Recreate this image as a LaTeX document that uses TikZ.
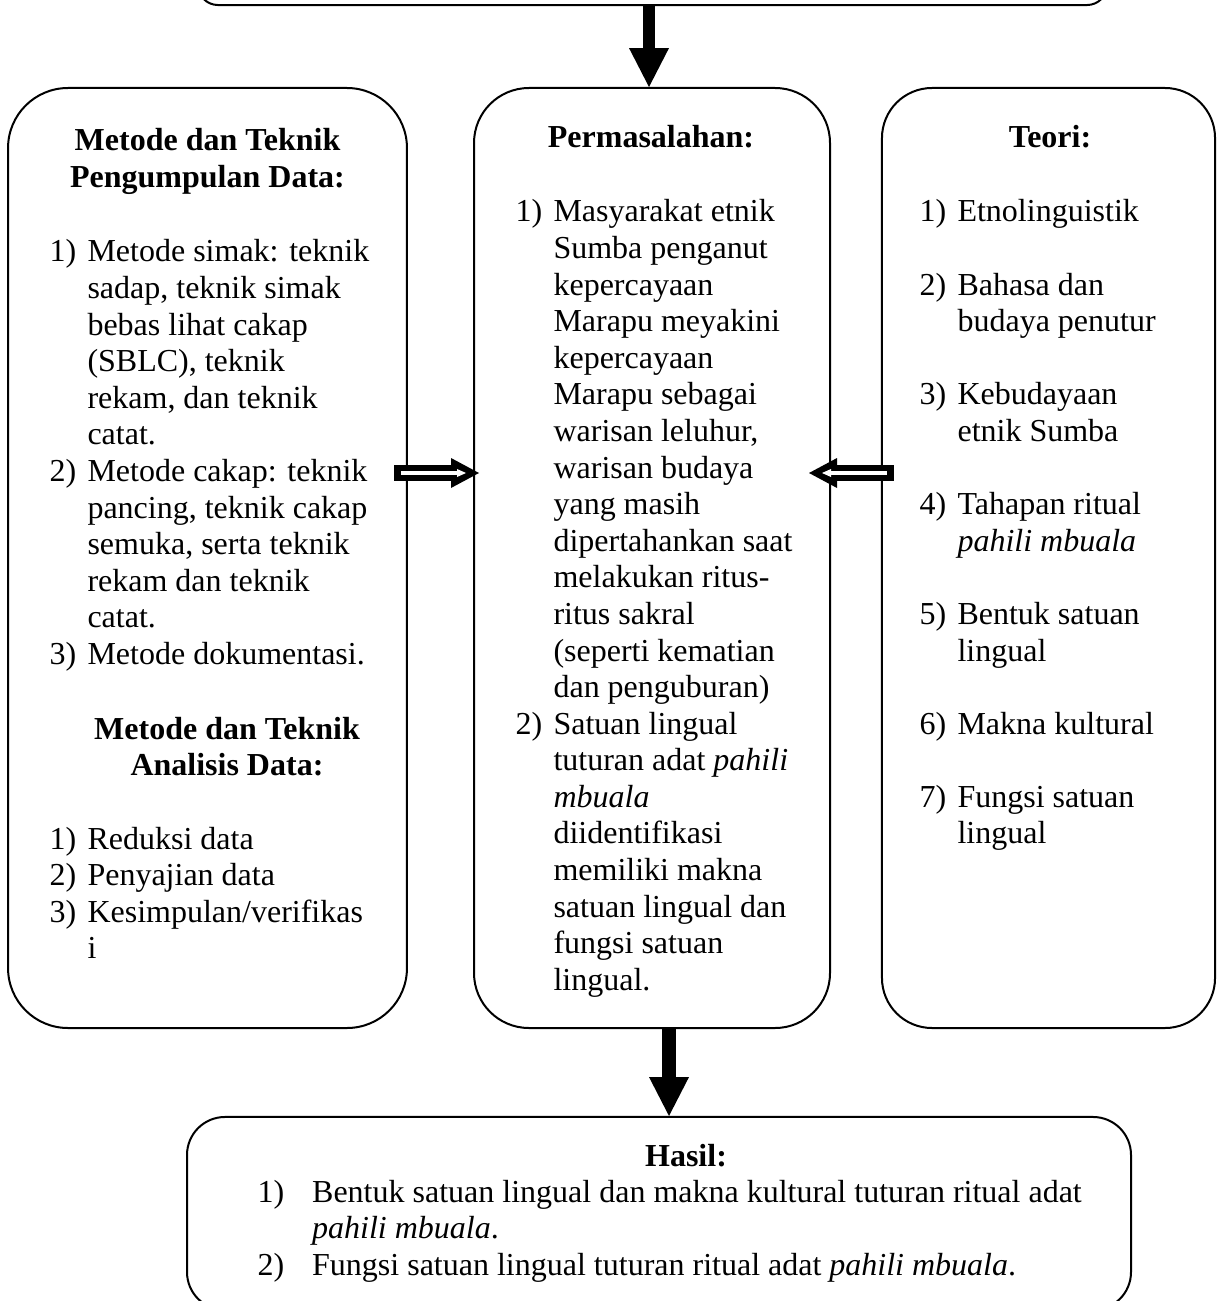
\documentclass[tikz,border=0pt]{standalone}
\usepackage{fontspec}
\setmainfont{Liberation Serif}
\usetikzlibrary{arrows.meta,calc}
\newcommand{\lb}[1]{\makebox[14.25pt][l]{#1}}
\newcommand{\ci}{\hspace*{14.25pt}}
\newcommand{\lbw}[1]{\makebox[20.5pt][l]{#1}}
\newcommand{\ciw}{\hspace*{20.5pt}}
\tikzset{
  box/.style={draw, line width=0.75pt, inner sep=0pt},
  txt/.style={inner sep=0pt, font=\fontsize{12}{13.72}\selectfont},
  bigarrow/.style={line width=#1, -{Triangle[length=14.6pt,width=15pt,line width=0pt]}},
}
\begin{document}
\begin{tikzpicture}[x=0.375pt,y=-0.375pt]
\useasboundingbox (0,0) rectangle (1221,1301);
% boxes
\node[box, rounded corners=7.5pt, minimum width=340.9pt, minimum height=76.9pt] (T) at (652.5,-97.5) {};
\node[box, rounded corners=22.5pt, minimum width=149.6pt, minimum height=352.5pt] (L) at (207.5,558) {};
\node[box, rounded corners=20.6pt, minimum width=133.5pt, minimum height=352.5pt] (M) at (652,558) {};
\node[box, rounded corners=18.75pt, minimum width=124.9pt, minimum height=352.5pt] (R) at (1048.5,558) {};
\node[box, rounded corners=14.25pt, minimum width=354pt, minimum height=72.4pt] (B) at (659,1213.5) {};

% thick arrows
\coordinate (mn) at ($(M.north)+(-3,0)$);
\draw[bigarrow=4.5pt] (T.south -| mn) -- (mn);
\coordinate (ms) at ($(M.south)+(17,0)$);
\draw[bigarrow=5pt] (ms) -- (ms |- B.north);

% hollow arrows
\coordinate (ay) at (0,473);
\coordinate (la) at ($(L.east |- ay)+(-14,0)$);
\coordinate (lt) at ($(M.west |- ay)+(6,0)$);
\fill ($(la)+(0,-8)$) rectangle ($(lt)+(-28,8)$);
\fill ($(lt)+(-28,-15)$) -- (lt) -- ($(lt)+(-28,15)$) -- cycle;
\draw[white, line width=1.3pt] ($(la)+(7,0)$) -- ($(lt)+(-18,0)$);
\fill[white] ($(lt)+(-22,-4)$) -- ($(lt)+(-13,0)$) -- ($(lt)+(-22,4)$) -- cycle;

\coordinate (ra) at ($(R.west |- ay)+(13,0)$);
\coordinate (rt) at ($(M.east |- ay)+(-22,0)$);
\fill ($(ra)+(0,-8)$) rectangle ($(rt)+(28,8)$);
\fill ($(rt)+(28,-15)$) -- (rt) -- ($(rt)+(28,15)$) -- cycle;
\draw[white, line width=1.3pt] ($(ra)+(-7,0)$) -- ($(rt)+(18,0)$);
\fill[white] ($(rt)+(22,-4)$) -- ($(rt)+(13,0)$) -- ($(rt)+(22,4)$) -- cycle;

% left box texts
\node[txt, anchor=base] (lt1) at (207.5,151) {\parbox[t]{140pt}{\centering\bfseries Metode dan Teknik\\Pengumpulan Data:}};
\node[txt, anchor=base west] (ll1) at (49,262) {\parbox[t]{150pt}{\raggedright
\lb{1)}Metode simak: teknik\\
\ci sadap, teknik simak\\
\ci bebas lihat cakap\\
\ci (SBLC), teknik\\
\ci rekam, dan teknik\\
\ci catat.\\
\lb{2)}Metode cakap: teknik\\
\ci pancing, teknik cakap\\
\ci semuka, serta teknik\\
\ci rekam dan teknik\\
\ci catat.\\
\lb{3)}Metode dokumentasi.}};
\node[txt, anchor=base] (lt2) at (227,739) {\parbox[t]{140pt}{\centering\bfseries Metode dan Teknik\\Analisis Data:}};
\node[txt, anchor=base west] (ll2) at (49,849) {\parbox[t]{150pt}{\raggedright
\lb{1)}Reduksi data\\
\lb{2)}Penyajian data\\
\lb{3)}Kesimpulan/verifikas\\
\ci i}};

% middle box texts
\node[txt, anchor=base] (mt) at (651,148) {\textbf{Permasalahan:}};
\node[txt, anchor=base west] (ml) at (515,222) {\parbox[t]{150pt}{\raggedright
\lb{1)}Masyarakat etnik\\
\ci Sumba penganut\\
\ci kepercayaan\\
\ci Marapu meyakini\\
\ci kepercayaan\\
\ci Marapu sebagai\\
\ci warisan leluhur,\\
\ci warisan budaya\\
\ci yang masih\\
\ci dipertahankan saat\\
\ci melakukan ritus-\\
\ci ritus sakral\\
\ci (seperti kematian\\
\ci dan penguburan)\\
\lb{2)}Satuan lingual\\
\ci tuturan adat \textit{pahili}\\
\ci \textit{mbuala}\\
\ci diidentifikasi\\
\ci memiliki makna\\
\ci satuan lingual dan\\
\ci fungsi satuan\\
\ci lingual.}};

% right box texts
\node[txt, anchor=base] (rtt) at (1050,148) {\textbf{Teori:}};
\node[txt, anchor=base west] (rl) at (919,222) {\parbox[t]{150pt}{\raggedright
\lb{1)}Etnolinguistik\\[13.72pt]
\lb{2)}Bahasa dan\\
\ci budaya penutur\\[13.72pt]
\lb{3)}Kebudayaan\\
\ci etnik Sumba\\[13.72pt]
\lb{4)}Tahapan ritual\\
\ci \textit{pahili mbuala}\\[13.72pt]
\lb{5)}Bentuk satuan\\
\ci lingual\\[13.72pt]
\lb{6)}Makna kultural\\[13.72pt]
\lb{7)}Fungsi satuan\\
\ci lingual}};

% bottom box texts
\node[txt, anchor=base] (bt) at (686,1166) {\textbf{Hasil:}};
\node[txt, anchor=base west] (bl) at (257,1202) {\parbox[t]{340pt}{\raggedright
\lbw{1)}Bentuk satuan lingual dan makna kultural tuturan ritual adat\\
\ciw\textit{pahili mbuala}.\\
\lbw{2)}Fungsi satuan lingual tuturan ritual adat \textit{pahili mbuala}.}};
\end{tikzpicture}
\end{document}
